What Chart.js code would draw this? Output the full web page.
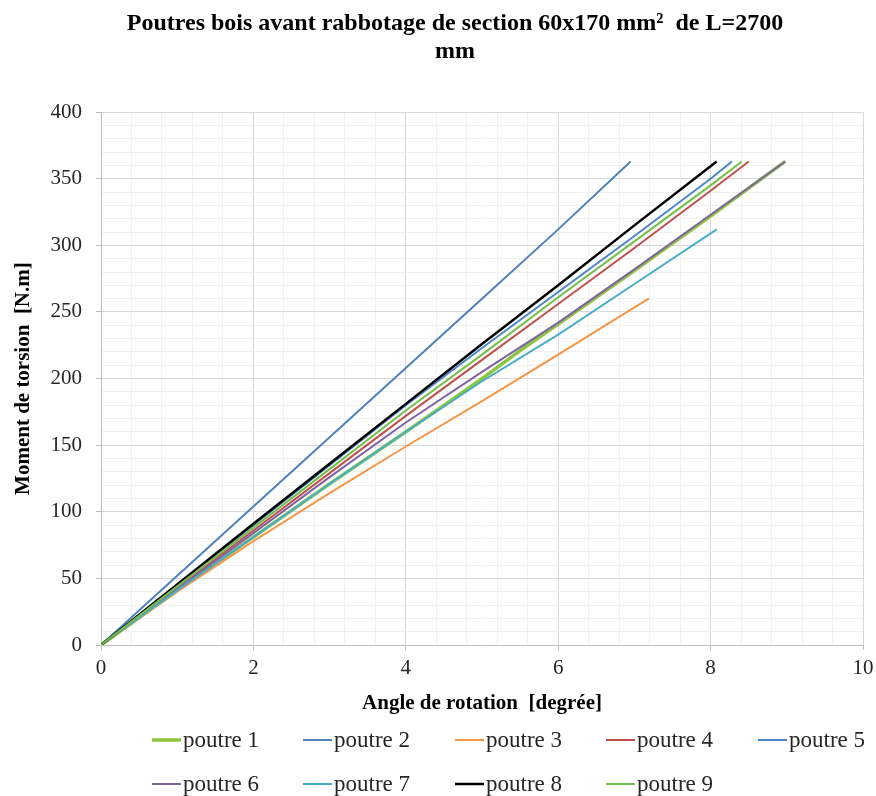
<!DOCTYPE html>
<html>
<head>
<meta charset="utf-8">
<script src="https://cdn.jsdelivr.net/npm/chart.js@4.4.1/dist/chart.umd.min.js"></script>
<style>
    html, body { margin: 0; padding: 0; background: #ffffff; }
    #wrap { width: 876px; height: 796px; }
</style>
</head>
<body>
<div id="wrap"><canvas id="torsionChart" width="876" height="796"></canvas></div>
<script>
// Data (angle in degrees, moment in N.m)
const seriesNames = ["poutre 1", "poutre 2", "poutre 3", "poutre 4", "poutre 5",
                     "poutre 6", "poutre 7", "poutre 8", "poutre 9"];

const angle1  = [0, 1, 2, 3, 4, 5, 5.5, 6, 7, 8, 8.98];
const moment1 = [0, 41, 81, 121, 160, 200, 221, 241, 281, 322, 363];

const angle2  = [0, 1, 2, 3, 4, 5, 6, 6.95];
const moment2 = [0, 52, 104, 156, 208, 260, 312, 363];

const angle3  = [0, 1, 2, 3, 4, 5, 6, 7, 7.19];
const moment3 = [0, 40, 78, 114, 149, 183, 218, 253.5, 260];

const angle4  = [0, 1, 2, 3, 4, 5, 6, 7, 8, 8.5];
const moment4 = [0, 43, 86, 129, 172, 214, 256, 298, 341, 363];

const angle5  = [0, 1, 2, 3, 4, 5, 6, 7, 8, 8.28];
const moment5 = [0, 45, 90, 135, 180, 223, 265, 307, 350, 363];

const angle6  = [0, 1, 2, 3, 4, 5, 6, 7, 8, 8.98];
const moment6 = [0, 42, 84, 126, 167, 205, 242, 282, 323, 363];

const angle7  = [0, 1, 2, 3, 4, 5, 6, 7, 8.08];
const moment7 = [0, 41, 81, 121, 160, 198, 233, 271, 312];

const angle8  = [0, 1, 2, 3, 4, 5, 6, 7, 8.08];
const moment8 = [0, 45.5, 91, 136, 181, 226, 270, 315, 363];

const angle9  = [0, 1, 2, 3, 4, 5, 6, 7, 8, 8.41];
const moment9 = [0, 44, 88, 132, 176, 218, 261, 303, 345, 363];

const xTickValues = [0, 2, 4, 6, 8, 10];
const yTickValues = [0, 50, 100, 150, 200, 250, 300, 350, 400];

const angles  = [angle1, angle2, angle3, angle4, angle5, angle6, angle7, angle8, angle9];
const moments = [moment1, moment2, moment3, moment4, moment5, moment6, moment7, moment8, moment9];
const colors  = ["#8cc63e", "#4f81bd", "#f79646", "#c0504d", "#4a86c8",
                 "#8064a2", "#4bacc6", "#000000", "#74bf48"];
const widths  = [3.5, 2, 2, 2, 2, 2, 2, 2.5, 2];

const serif = "'Liberation Serif', 'Times New Roman', serif";

function isMajor(v, list) {
    return list.some(t => Math.abs(t - v) < 1e-6);
}

// Title sits a bit right of the canvas centre in the reference
const titleShift = {
    id: 'titleShift',
    afterLayout(chart) {
        if (chart.titleBlock) {
            chart.titleBlock.left += 34;
        }
    }
};

// Legend in two rows, drawn like the Excel one
const poutreLegend = {
    id: 'poutreLegend',
    afterDraw(chart) {
        const ctx = chart.ctx;
        const cols = [152, 303, 455, 606, 758];
        const rows = [740, 784];
        ctx.save();
        ctx.font = "23px " + serif;
        ctx.textBaseline = 'middle';
        ctx.textAlign = 'left';
        chart.data.datasets.forEach((ds, i) => {
            const x = cols[i % 5];
            const y = rows[Math.floor(i / 5)];
            ctx.strokeStyle = ds.borderColor;
            ctx.lineWidth = ds.borderWidth;
            ctx.beginPath();
            ctx.moveTo(x, y);
            ctx.lineTo(x + 29, y);
            ctx.stroke();
            ctx.fillStyle = '#262626';
            ctx.fillText(ds.label, x + 31, y + 1);
        });
        ctx.restore();
    }
};

const datasets = seriesNames.map((name, i) => ({
    label: name,
    data: angles[i].map((a, j) => ({ x: a, y: moments[i][j] })),
    borderColor: colors[i],
    backgroundColor: colors[i],
    borderWidth: widths[i],
    pointRadius: 0,
    tension: 0,
    fill: false,
    order: 8 - i
}));

const ctx = document.getElementById('torsionChart').getContext('2d');
new Chart(ctx, {
    type: 'line',
    data: { datasets: datasets },
    plugins: [titleShift, poutreLegend],
    options: {
        responsive: false,
        animation: false,
        devicePixelRatio: 1,
        layout: { padding: { left: 0, right: 0, top: 0, bottom: 79 } },
        plugins: {
            legend: { display: false },
            tooltip: { enabled: false },
            title: {
                display: true,
                text: ["Poutres bois avant rabbotage de section 60x170 mm²  de L=2700", "mm"],
                color: '#000000',
                font: { family: serif, size: 24, weight: 'bold', lineHeight: 1.17 },
                padding: { top: 10, bottom: 46 }
            }
        },
        scales: {
            x: {
                type: 'linear',
                min: 0,
                max: 10,
                afterFit: s => { s.height = 72; s.paddingRight = 13; },
                border: { color: '#bfbfbf', width: 1 },
                grid: {
                    color: c => isMajor(c.tick.value, xTickValues) ? '#d9d9d9' : '#f0f0f0',
                    tickColor: c => isMajor(c.tick.value, xTickValues) ? '#bfbfbf' : 'rgba(0,0,0,0)',
                    tickLength: 5,
                    lineWidth: 1
                },
                ticks: {
                    stepSize: 0.4,
                    autoSkip: false,
                    maxRotation: 0,
                    padding: 6,
                    color: '#262626',
                    font: { family: serif, size: 21 },
                    callback: v => isMajor(v, xTickValues) ? String(Math.round(v)) : ''
                },
                title: {
                    display: true,
                    text: 'Angle de rotation  [degrée]',
                    color: '#000000',
                    font: { family: serif, size: 21, weight: 'bold' },
                    padding: { top: 0, bottom: 1 }
                }
            },
            y: {
                type: 'linear',
                min: 0,
                max: 400,
                afterFit: s => { s.width = 101; },
                border: { color: '#bfbfbf', width: 1 },
                grid: {
                    color: c => isMajor(c.tick.value, yTickValues) ? '#d9d9d9' : '#f0f0f0',
                    tickColor: c => isMajor(c.tick.value, yTickValues) ? '#bfbfbf' : 'rgba(0,0,0,0)',
                    tickLength: 5,
                    lineWidth: 1
                },
                ticks: {
                    stepSize: 10,
                    autoSkip: false,
                    padding: 14,
                    color: '#262626',
                    font: { family: serif, size: 21 },
                    callback: v => isMajor(v, yTickValues) ? String(Math.round(v)) : ''
                },
                title: {
                    display: true,
                    text: 'Moment de torsion  [N.m]',
                    color: '#000000',
                    font: { family: serif, size: 21, weight: 'bold' },
                    padding: { top: 11, bottom: 0 }
                }
            }
        }
    }
});
</script>
</body>
</html>
